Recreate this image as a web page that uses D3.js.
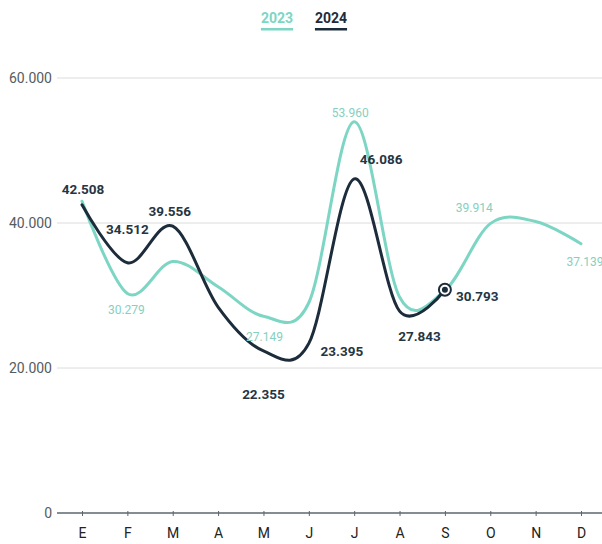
<!DOCTYPE html>
<html>
<head>
<meta charset="utf-8">
<script src="https://cdn.jsdelivr.net/npm/d3@7"></script>
<style>
  body { margin: 0; background: #fff; }
  svg { display: block; font-family: Roboto, "Liberation Sans", sans-serif; }
</style>
</head>
<body>
<svg id="chart" width="602" height="544"></svg>
<script>
// ---- data ----
const months = ["E", "F", "M", "A", "M2", "J", "J2", "A2", "S", "O", "N", "D"];
const monthLabels = ["E", "F", "M", "A", "M", "J", "J", "A", "S", "O", "N", "D"];
const values2023 = [43000, 30279, 34700, 31200, 27149, 29000, 53960, 29800, 30700, 39914, 40200, 37139];
const values2024 = [42508, 34512, 39556, 28400, 22355, 23395, 46086, 27843, 30793];
const labeled2023 = [1, 4, 6, 9, 11];
const labeled2024 = [0, 1, 2, 4, 5, 6, 7, 8];
const yTicks = [0, 20000, 40000, 60000];
const seriesNames = ["2023", "2024"];

// ---- layout ----
const W = 602, H = 544;
const colors = { "2023": "#7dd6c4", "2024": "#1d2c3b" };
const labelColors = { "2023": "#86cfc1", "2024": "#263543" };
// label offsets relative to the point (dx, dy, anchor)
const offsets2023 = { 1: [-1, 16, "middle"], 4: [1, 21, "middle"], 6: [-4, -9, "middle"], 9: [-16, -16, "middle"], 11: [4, 18, "middle"] };
const offsets2024 = { 0: [1, -16, "middle"], 1: [0, -34, "middle"], 2: [-3, -15, "middle"], 4: [0, 43, "middle"], 5: [33, 8, "middle"], 6: [27, -20, "middle"], 7: [20, 25, "middle"], 8: [11, 7, "start"] };

const svg = d3.select("#chart");
const x = d3.scalePoint().domain(months).range([82, 581]);
const y = d3.scaleLinear().domain([0, 60000]).range([513, 78]);
const fmt = v => d3.format(",")(v).replace(/,/g, ".");

// grid lines
const grid = svg.append("g");
yTicks.filter(t => t > 0).forEach(t => {
  grid.append("line").attr("x1", 57).attr("x2", W).attr("y1", y(t)).attr("y2", y(t))
    .attr("stroke", "#dcdcdc").attr("stroke-width", 1);
});
// y tick labels
yTicks.forEach(t => {
  svg.append("text").attr("x", 52).attr("y", y(t)).attr("dy", "0.35em")
    .attr("text-anchor", "end").attr("font-size", 14).attr("fill", "#555c60")
    .text(t === 0 ? "0" : fmt(t));
});

// x axis
const xAxis = d3.axisBottom(x).tickSize(4).tickPadding(8).tickFormat((d, i) => monthLabels[i]);
const gx = svg.append("g").attr("transform", `translate(0,${y(0)})`).call(xAxis);
gx.select(".domain").remove();
gx.append("line").attr("x1", 57).attr("x2", W).attr("y1", 0).attr("y2", 0)
  .attr("stroke", "#5b676d").attr("stroke-width", 1.5);
gx.selectAll(".tick line").attr("stroke", "#5b676d").attr("y1", -2).attr("y2", 3);
gx.selectAll(".tick text").attr("font-size", 14).attr("fill", "#222").attr("font-family", "Roboto, sans-serif").attr("dy", "0.9em");

// lines
const line = d3.line().x((d, i) => x(months[i])).y(d => y(d)).curve(d3.curveCardinal.tension(0));
svg.append("path").datum(values2023).attr("d", line).attr("fill", "none")
  .attr("stroke", colors["2023"]).attr("stroke-width", 3).attr("stroke-linecap", "round");
svg.append("path").datum(values2024).attr("d", line).attr("fill", "none")
  .attr("stroke", colors["2024"]).attr("stroke-width", 3).attr("stroke-linecap", "round");

// end marker on last 2024 point
const li = values2024.length - 1;
svg.append("circle").attr("cx", x(months[li])).attr("cy", y(values2024[li])).attr("r", 6)
  .attr("fill", "#fff").attr("stroke", colors["2024"]).attr("stroke-width", 2);
svg.append("circle").attr("cx", x(months[li])).attr("cy", y(values2024[li])).attr("r", 3)
  .attr("fill", colors["2024"]);

// value labels
labeled2023.forEach(i => {
  const o = offsets2023[i];
  svg.append("text").attr("x", x(months[i]) + o[0]).attr("y", y(values2023[i]) + o[1])
    .attr("dy", "0.35em").attr("text-anchor", o[2]).attr("font-size", 12)
    .attr("fill", labelColors["2023"]).text(fmt(values2023[i]));
});
labeled2024.forEach(i => {
  const o = offsets2024[i];
  svg.append("text").attr("x", x(months[i]) + o[0]).attr("y", y(values2024[i]) + o[1])
    .attr("dy", "0.35em").attr("text-anchor", o[2]).attr("font-size", 13.5).attr("font-weight", 700)
    .attr("fill", labelColors["2024"]).text(fmt(values2024[i]));
});

// legend
const legendX = [277, 331];
seriesNames.forEach((s, i) => {
  const t = svg.append("text").attr("x", legendX[i]).attr("y", 18).attr("dy", "0.35em")
    .attr("text-anchor", "middle").attr("font-size", 14).attr("font-weight", 700)
    .attr("fill", colors[s]).text(s);
  const bb = t.node().getBBox();
  svg.append("rect").attr("x", bb.x).attr("y", 28).attr("width", bb.width).attr("height", 2.5)
    .attr("fill", colors[s]);
});
</script>
</body>
</html>
